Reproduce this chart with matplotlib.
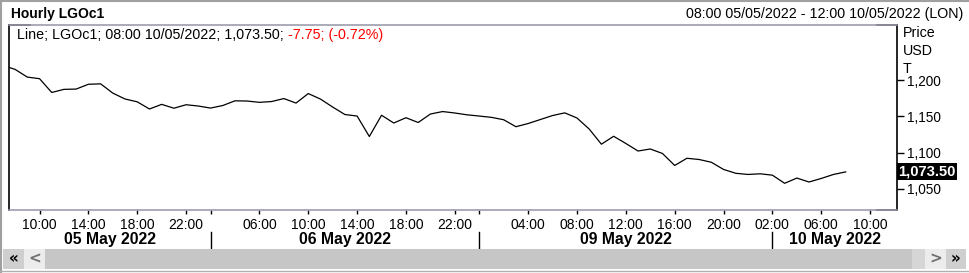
import matplotlib

matplotlib.use("Agg")
import matplotlib.pyplot as plt
import matplotlib.transforms as mtransforms
import numpy as np
from matplotlib.patches import Rectangle
from matplotlib.ticker import FuncFormatter

# hourly closes, LGOc1, 05/05 07:00 .. 10/05 08:00 (bar index -1 .. 68)
prices = [
    1220.3, 1214.8, 1204.2, 1202.0, 1183.0, 1187.3, 1187.7, 1194.3, 1194.9, 1182.1,
    1174.0, 1170.1, 1160.2, 1166.6, 1161.3, 1166.1, 1164.3, 1161.5, 1165.0, 1171.5,
    1171.2, 1169.4, 1170.5, 1174.6, 1168.4, 1181.5, 1173.9, 1162.9, 1152.6, 1150.5,
    1122.3, 1151.6, 1140.9, 1148.2, 1141.6, 1153.3, 1156.7, 1154.7, 1152.2, 1150.5,
    1148.7, 1145.4, 1135.8, 1140.2, 1145.7, 1151.2, 1154.9, 1147.8, 1132.6, 1111.7,
    1122.6, 1112.7, 1102.3, 1105.1, 1098.9, 1082.4, 1092.3, 1090.6, 1086.8, 1076.9,
    1071.6, 1070.0, 1070.9, 1069.0, 1057.8, 1065.0, 1059.6, 1064.5, 1070.0, 1073.5,
]
first_bar = -1

tick_pos = [2, 6, 10, 14, 16, 20, 24, 28, 32, 36, 38, 42, 46, 50, 54, 58, 62, 66, 70]
tick_labels = [
    "10:00", "14:00", "18:00", "22:00", "",
    "06:00", "10:00", "14:00", "18:00", "22:00", "",
    "04:00", "08:00", "12:00", "16:00", "20:00",
    "02:00", "06:00", "10:00",
]
day_bounds = [16, 38, 62]
day_labels = ["05 May 2022", "06 May 2022", "09 May 2022", "10 May 2022"]

y_ticks = [1050, 1100, 1150, 1200]
last_price = 1073.50
legend_main = "Line; LGOc1; 08:00 10/05/2022; 1,073.50; "
legend_change = "-7.75; (-0.72%)"
title = "Hourly LGOc1"
range_text = "08:00 05/05/2022 - 12:00 10/05/2022 (LON)"

W, H = 969, 273
FONT = ["Liberation Sans", "DejaVu Sans"]
GRAY = "#9c9cae"
FS = 10.3

plt.rcParams["font.family"] = FONT


def fx(px):
    return px / W


def fy(py):
    return 1 - py / H


def px_rect(fig, x0, y0, x1, y1, color):
    fig.patches.append(
        Rectangle((fx(x0), fy(y1)), fx(x1 - x0), (y1 - y0) / H,
                  transform=fig.transFigure, fc=color, ec="none", zorder=0)
    )


fig = plt.figure(figsize=(W / 100, H / 100), dpi=100)
ax = fig.add_axes([fx(9), fy(210), fx(897 - 9), (210 - 25) / H])

x = np.arange(len(prices)) + first_bar
ax.plot(x, prices, color="black", lw=0.9)
ax.set_xlim(-0.5, 72.2)
ax.set_ylim(1021, 1276)

# frame: black sides, grey top/bottom with short black corners
for side in ["left", "right"]:
    ax.spines[side].set_color("black")
    ax.spines[side].set_linewidth(1.2)
for side in ["top", "bottom"]:
    ax.spines[side].set_color(GRAY)
    ax.spines[side].set_linewidth(1.2)
for x0, x1, yy in [(0, 0.024, 1), (0.977, 1, 1), (0.977, 1, 0)]:
    ax.plot([x0, x1], [yy, yy], color="black", lw=1.2, transform=ax.transAxes, clip_on=False)

# right price axis
ax.yaxis.tick_right()
ax.set_yticks(y_ticks)
ax.yaxis.set_major_formatter(FuncFormatter(lambda v, p: f"{v:,.0f}"))
ax.tick_params(axis="y", direction="out", length=5, width=1, pad=2, labelsize=9.8)
for i, s in enumerate(["Price", "USD", "T"]):
    fig.text(fx(903), fy(33 + 18 * i), s, ha="left", va="center", fontsize=FS)

ax.text(1.0015, last_price, f"{last_price:,.2f}",
        transform=mtransforms.blended_transform_factory(ax.transAxes, ax.transData),
        ha="left", va="center", color="white", fontsize=10.6, fontweight="bold",
        bbox=dict(boxstyle="square,pad=0.1", fc="black", ec="none"), clip_on=False)

# time axis
ax.set_xticks(tick_pos)
ax.set_xticklabels(tick_labels)
ax.tick_params(axis="x", direction="out", length=3, width=1, pad=2.5, labelsize=10, color="black")

trans = mtransforms.blended_transform_factory(ax.transData, ax.transAxes)
edges = [ax.get_xlim()[0]] + day_bounds + [ax.get_xlim()[1]]
for b in day_bounds:
    ax.plot([b, b], [-0.119, -0.205], color="black", lw=1.0, transform=trans, clip_on=False)
for i, lab in enumerate(day_labels):
    ax.text((edges[i] + edges[i + 1]) / 2, -0.162, lab, transform=trans,
            ha="center", va="center", fontsize=11.3, fontweight="bold")

# header
fig.text(fx(11), fy(14), title, ha="left", va="center", fontsize=10, fontweight="bold")
fig.text(fx(963), fy(14), range_text, ha="right", va="center", fontsize=FS)
t1 = fig.text(fx(17), fy(35), legend_main, ha="left", va="center", fontsize=FS)
fig.canvas.draw()
bb = t1.get_window_extent(fig.canvas.get_renderer())
fig.text(bb.x1 / W, fy(35), legend_change, ha="left", va="center", fontsize=FS, color="#ff0000")

# window border
fig.add_artist(plt.Line2D([0, 1], [fy(0.5), fy(0.5)], color="#a0a0a0", lw=1.5, transform=fig.transFigure))
fig.add_artist(plt.Line2D([fx(0.5), fx(0.5)], [0, 1], color="#a0a0a0", lw=1.5, transform=fig.transFigure))

# scroll bar
px_rect(fig, 3, 249, 966, 269, "#f0f0f0")
px_rect(fig, 3, 249, 24, 269, "#cfcfcf")
px_rect(fig, 24, 249, 45, 269, "#ececec")
px_rect(fig, 45, 249, 912, 269, "#c6c6c6")
px_rect(fig, 912, 249, 925, 269, "#d6d6d6")
px_rect(fig, 925, 249, 946, 269, "#ececec")
px_rect(fig, 946, 249, 966, 269, "#cfcfcf")
fig.add_artist(plt.Line2D([0, 1], [fy(270.5), fy(270.5)], color="#b0b0b0", lw=1, transform=fig.transFigure))
for xc, s, c in [(13.5, "«", "black"), (34.5, "<", "#707070"), (935.5, ">", "#707070"), (956, "»", "black")]:
    fig.text(fx(xc), fy(258.5), s, ha="center", va="center", fontsize=11,
             fontweight="bold", color=c, family="DejaVu Sans")

fig.savefig("out.png", dpi=100, facecolor="white")
